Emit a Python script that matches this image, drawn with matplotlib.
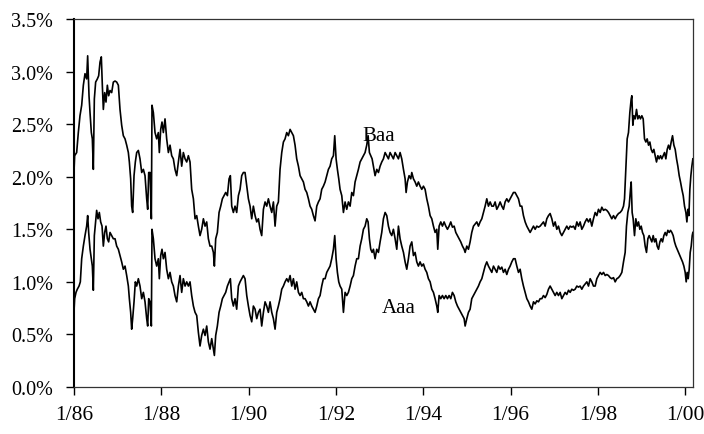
import matplotlib
matplotlib.use("Agg")
import matplotlib.pyplot as plt

# ---- data (decimal year, spread in %) ----
baa_dates = [
    1986.000, 1986.015, 1986.061, 1986.099, 1986.137, 1986.176, 1986.214, 1986.252, 1986.290, 1986.313,
    1986.344, 1986.367, 1986.397, 1986.420, 1986.443, 1986.466, 1986.496, 1986.535, 1986.565, 1986.596,
    1986.626, 1986.649, 1986.672, 1986.703, 1986.733, 1986.764, 1986.794, 1986.825, 1986.863, 1986.901,
    1986.940, 1986.978, 1987.016, 1987.054, 1987.092, 1987.130, 1987.169, 1987.207, 1987.245, 1987.268,
    1987.298, 1987.321, 1987.344, 1987.375, 1987.405, 1987.436, 1987.474, 1987.512, 1987.551, 1987.589,
    1987.627, 1987.665, 1987.688, 1987.711, 1987.742, 1987.772, 1987.787, 1987.818, 1987.856, 1987.894,
    1987.932, 1987.955, 1987.986, 1988.016, 1988.047, 1988.085, 1988.123, 1988.162, 1988.200, 1988.238,
    1988.276,
    1988.314, 1988.353, 1988.391, 1988.429, 1988.467, 1988.505, 1988.544, 1988.582, 1988.620, 1988.658,
    1988.696, 1988.735, 1988.773, 1988.811, 1988.849, 1988.887, 1988.925, 1988.964, 1989.002, 1989.040,
    1989.078, 1989.116, 1989.155, 1989.193, 1989.216, 1989.246, 1989.284, 1989.323, 1989.361, 1989.399,
    1989.437, 1989.475, 1989.514, 1989.552, 1989.582, 1989.613, 1989.651, 1989.689, 1989.727, 1989.766,
    1989.804, 1989.842, 1989.880, 1989.918, 1989.957, 1989.995, 1990.033, 1990.071, 1990.109, 1990.148,
    1990.186, 1990.224, 1990.262, 1990.300, 1990.339, 1990.377, 1990.415, 1990.453, 1990.491, 1990.530,
    1990.568, 1990.606, 1990.644, 1990.682,
    1990.720, 1990.759, 1990.797, 1990.835, 1990.873, 1990.911, 1990.950, 1990.988, 1991.026, 1991.064,
    1991.102, 1991.141, 1991.179, 1991.217, 1991.255, 1991.293, 1991.332, 1991.370, 1991.408, 1991.446,
    1991.484, 1991.522, 1991.561, 1991.599, 1991.637, 1991.675, 1991.713, 1991.752, 1991.790, 1991.828,
    1991.866, 1991.904, 1991.943, 1991.973, 1992.004, 1992.034, 1992.065, 1992.095, 1992.134, 1992.172,
    1992.210, 1992.248, 1992.286, 1992.325, 1992.363, 1992.401, 1992.439, 1992.477, 1992.515, 1992.554,
    1992.592, 1992.630, 1992.668, 1992.706, 1992.737, 1992.767, 1992.798, 1992.829, 1992.859, 1992.897,
    1992.936, 1992.974, 1993.012, 1993.050, 1993.088,
    1993.127, 1993.165, 1993.203, 1993.241, 1993.279, 1993.317, 1993.356, 1993.394, 1993.432, 1993.470,
    1993.508, 1993.547, 1993.585, 1993.608, 1993.638, 1993.676, 1993.715, 1993.738, 1993.776, 1993.814,
    1993.852, 1993.890, 1993.928, 1993.967, 1994.005, 1994.043, 1994.081, 1994.119, 1994.158, 1994.196,
    1994.234, 1994.272, 1994.310, 1994.333, 1994.364, 1994.402, 1994.440, 1994.478, 1994.517, 1994.555,
    1994.593, 1994.631, 1994.669, 1994.708, 1994.746, 1994.784, 1994.822, 1994.860, 1994.899, 1994.937,
    1994.960, 1994.998, 1995.036, 1995.074, 1995.112, 1995.151, 1995.189, 1995.227, 1995.265, 1995.303,
    1995.342, 1995.380, 1995.418, 1995.456, 1995.494,
    1995.533, 1995.571, 1995.609, 1995.647, 1995.685, 1995.723, 1995.762, 1995.800, 1995.838, 1995.876,
    1995.914, 1995.953, 1995.991, 1996.029, 1996.067, 1996.105, 1996.144, 1996.182, 1996.220, 1996.258,
    1996.296, 1996.335, 1996.373, 1996.411, 1996.449, 1996.487, 1996.526, 1996.564, 1996.602, 1996.640,
    1996.678, 1996.717, 1996.755, 1996.793, 1996.831, 1996.869, 1996.907, 1996.946, 1996.984, 1997.022,
    1997.060, 1997.098, 1997.137, 1997.175, 1997.213, 1997.251, 1997.289, 1997.328, 1997.366, 1997.404,
    1997.442, 1997.480, 1997.519, 1997.557, 1997.595, 1997.633, 1997.671, 1997.709, 1997.748, 1997.786,
    1997.824, 1997.862, 1997.900,
    1997.939, 1997.977, 1998.015, 1998.053, 1998.091, 1998.130, 1998.168, 1998.206, 1998.244, 1998.282,
    1998.320, 1998.359, 1998.397, 1998.435, 1998.473, 1998.511, 1998.550, 1998.588, 1998.611, 1998.641,
    1998.672, 1998.702, 1998.733, 1998.764, 1998.779, 1998.802, 1998.825, 1998.855, 1998.886, 1998.916,
    1998.947, 1998.977, 1999.008, 1999.039, 1999.069, 1999.100, 1999.130, 1999.161, 1999.192, 1999.222,
    1999.253, 1999.283, 1999.314, 1999.344, 1999.375, 1999.405, 1999.436, 1999.466, 1999.497, 1999.528,
    1999.558, 1999.589, 1999.619, 1999.650, 1999.680, 1999.711, 1999.742, 1999.772, 1999.803, 1999.833,
    1999.864, 1999.894, 1999.925, 1999.956, 1999.986, 2000.017, 2000.040, 2000.063, 2000.086, 2000.108,
    2000.131, 2000.154, 2000.177,
]
baa_values = [
    2.05, 2.20, 2.23, 2.42, 2.58, 2.68, 2.87, 2.98, 2.93, 3.15,
    2.77, 2.61, 2.42, 2.36, 2.07, 2.74, 2.90, 2.93, 2.96, 3.09,
    3.14, 2.87, 2.64, 2.80, 2.71, 2.87, 2.77, 2.82, 2.80, 2.90,
    2.91, 2.90, 2.87, 2.64, 2.49, 2.39, 2.36, 2.30, 2.23, 2.14,
    1.98, 1.72, 1.66, 2.01, 2.14, 2.23, 2.25, 2.17, 2.04, 2.07,
    2.01, 1.79, 1.69, 2.04, 2.04, 1.60, 2.68, 2.61, 2.42, 2.36,
    2.42, 2.23, 2.45, 2.52, 2.42, 2.55, 2.36, 2.23, 2.30, 2.20,
    2.17,
    2.07, 2.01, 2.14, 2.26, 2.10, 2.23, 2.17, 2.14, 2.20, 2.14,
    1.88, 1.79, 1.60, 1.63, 1.53, 1.44, 1.50, 1.60, 1.53, 1.57,
    1.41, 1.34, 1.34, 1.28, 1.15, 1.41, 1.47, 1.66, 1.72, 1.79,
    1.82, 1.85, 1.82, 1.98, 2.01, 1.72, 1.66, 1.72, 1.66, 1.82,
    1.88, 2.01, 2.04, 2.04, 1.91, 1.79, 1.72, 1.60, 1.72, 1.63,
    1.57, 1.60, 1.50, 1.44, 1.69, 1.76, 1.72, 1.79, 1.72, 1.66,
    1.76, 1.53, 1.72, 1.76,
    2.07, 2.23, 2.33, 2.36, 2.42, 2.39, 2.45, 2.42, 2.39, 2.30,
    2.17, 2.10, 2.01, 1.98, 1.95, 1.88, 1.85, 1.79, 1.72, 1.69,
    1.63, 1.58, 1.72, 1.76, 1.79, 1.88, 1.91, 1.95, 2.01, 2.07,
    2.10, 2.17, 2.20, 2.39, 2.17, 2.07, 1.98, 1.88, 1.82, 1.66,
    1.76, 1.69, 1.76, 1.72, 1.85, 1.82, 1.95, 2.01, 2.07, 2.14,
    2.17, 2.20, 2.23, 2.30, 2.39, 2.23, 2.20, 2.17, 2.10, 2.01,
    2.07, 2.04, 2.10, 2.14, 2.17,
    2.23, 2.20, 2.17, 2.23, 2.20, 2.17, 2.23, 2.20, 2.17, 2.23,
    2.17, 2.07, 1.98, 1.85, 1.95, 2.01, 1.98, 2.04, 1.98, 1.95,
    1.91, 1.95, 1.91, 1.88, 1.91, 1.88, 1.79, 1.72, 1.63, 1.60,
    1.53, 1.47, 1.50, 1.31, 1.53, 1.57, 1.53, 1.57, 1.53, 1.50,
    1.53, 1.57, 1.52, 1.53, 1.47, 1.44, 1.41, 1.38, 1.34, 1.31,
    1.28, 1.34, 1.31, 1.38, 1.47, 1.53, 1.55, 1.57, 1.53, 1.57,
    1.60, 1.66, 1.72, 1.79, 1.72,
    1.76, 1.72, 1.72, 1.76, 1.69, 1.72, 1.76, 1.72, 1.69, 1.76,
    1.79, 1.76, 1.79, 1.82, 1.85, 1.85, 1.82, 1.79, 1.72, 1.72,
    1.63, 1.57, 1.53, 1.50, 1.47, 1.50, 1.53, 1.50, 1.53, 1.52,
    1.53, 1.55, 1.57, 1.53, 1.60, 1.63, 1.65, 1.60, 1.53, 1.57,
    1.50, 1.53, 1.47, 1.44, 1.47, 1.50, 1.53, 1.50, 1.53, 1.52,
    1.53, 1.50, 1.57, 1.53, 1.57, 1.50, 1.53, 1.57, 1.60, 1.57,
    1.60, 1.53, 1.60,
    1.66, 1.63, 1.69, 1.66, 1.71, 1.68, 1.69, 1.68, 1.66, 1.63,
    1.60, 1.63, 1.60, 1.63, 1.65, 1.66, 1.68, 1.72, 1.79, 2.07,
    2.36, 2.42, 2.61, 2.74, 2.77, 2.49, 2.58, 2.55, 2.64, 2.55,
    2.58, 2.55, 2.58, 2.55, 2.36, 2.33, 2.36, 2.30, 2.33, 2.26,
    2.23, 2.26, 2.20, 2.14, 2.20, 2.17, 2.20, 2.17, 2.20, 2.23,
    2.17, 2.26, 2.30, 2.26, 2.33, 2.39, 2.30, 2.26, 2.17, 2.10,
    2.01, 1.95, 1.88, 1.82, 1.72, 1.66, 1.57, 1.69, 1.63, 1.88,
    2.01, 2.10, 2.17,
]

aaa_dates = [
    1986.000, 1986.015, 1986.046, 1986.076, 1986.115, 1986.145, 1986.176, 1986.214, 1986.252, 1986.290,
    1986.313, 1986.336, 1986.367, 1986.397, 1986.420, 1986.443, 1986.466, 1986.496, 1986.519, 1986.550,
    1986.580, 1986.611, 1986.642, 1986.672, 1986.703, 1986.733, 1986.764, 1986.794, 1986.825, 1986.863,
    1986.901, 1986.940, 1986.978, 1987.016, 1987.054, 1987.092, 1987.130, 1987.169, 1987.207, 1987.245,
    1987.268, 1987.298, 1987.321, 1987.344, 1987.375, 1987.405, 1987.436, 1987.474, 1987.512, 1987.551,
    1987.589, 1987.627, 1987.665, 1987.688, 1987.711, 1987.742, 1987.772, 1987.787, 1987.818, 1987.856,
    1987.894, 1987.932, 1987.955, 1987.986, 1988.016, 1988.047, 1988.085, 1988.123, 1988.162, 1988.200,
    1988.238, 1988.276,
    1988.314, 1988.353, 1988.391, 1988.429, 1988.467, 1988.505, 1988.544, 1988.582, 1988.620, 1988.658,
    1988.696, 1988.735, 1988.773, 1988.811, 1988.849, 1988.887, 1988.925, 1988.964, 1989.002, 1989.040,
    1989.078, 1989.116, 1989.155, 1989.193, 1989.216, 1989.246, 1989.284, 1989.323, 1989.361, 1989.399,
    1989.437, 1989.475, 1989.514, 1989.552, 1989.582, 1989.613, 1989.651, 1989.689, 1989.727, 1989.766,
    1989.804, 1989.842, 1989.880, 1989.918, 1989.957, 1989.995, 1990.033, 1990.071, 1990.109, 1990.148,
    1990.186, 1990.224, 1990.262, 1990.300, 1990.339, 1990.377, 1990.415, 1990.453, 1990.491, 1990.530,
    1990.568, 1990.606, 1990.644, 1990.682,
    1990.720, 1990.759, 1990.797, 1990.835, 1990.873, 1990.911, 1990.950, 1990.988, 1991.026, 1991.064,
    1991.102, 1991.141, 1991.179, 1991.217, 1991.255, 1991.293, 1991.332, 1991.370, 1991.408, 1991.446,
    1991.484, 1991.522, 1991.561, 1991.599, 1991.637, 1991.675, 1991.713, 1991.752, 1991.790, 1991.828,
    1991.866, 1991.904, 1991.943, 1991.973, 1992.004, 1992.034, 1992.065, 1992.095, 1992.134, 1992.172,
    1992.210, 1992.248, 1992.286, 1992.325, 1992.363, 1992.401, 1992.439, 1992.477, 1992.515, 1992.554,
    1992.592, 1992.630, 1992.668, 1992.706, 1992.737, 1992.767, 1992.798, 1992.829, 1992.859, 1992.897,
    1992.936, 1992.974, 1993.012, 1993.050, 1993.088,
    1993.127, 1993.165, 1993.203, 1993.241, 1993.279, 1993.317, 1993.356, 1993.394, 1993.432, 1993.470,
    1993.508, 1993.547, 1993.585, 1993.623, 1993.661, 1993.699, 1993.738, 1993.776, 1993.814, 1993.852,
    1993.890, 1993.928, 1993.967, 1994.005, 1994.043, 1994.081, 1994.119, 1994.158, 1994.196, 1994.234,
    1994.272, 1994.310, 1994.333, 1994.364, 1994.402, 1994.440, 1994.478, 1994.517, 1994.555, 1994.593,
    1994.631, 1994.669, 1994.708, 1994.746, 1994.784, 1994.822, 1994.860, 1994.899, 1994.937, 1994.960,
    1994.998, 1995.036, 1995.074, 1995.112, 1995.151, 1995.189, 1995.227, 1995.265, 1995.303, 1995.342,
    1995.380, 1995.418, 1995.456, 1995.494,
    1995.533, 1995.571, 1995.609, 1995.647, 1995.685, 1995.723, 1995.762, 1995.800, 1995.838, 1995.876,
    1995.914, 1995.953, 1995.991, 1996.029, 1996.067, 1996.105, 1996.144, 1996.182, 1996.220, 1996.258,
    1996.296, 1996.335, 1996.373, 1996.411, 1996.449, 1996.487, 1996.526, 1996.564, 1996.602, 1996.640,
    1996.678, 1996.717, 1996.755, 1996.793, 1996.831, 1996.869, 1996.907, 1996.946, 1996.984, 1997.022,
    1997.060, 1997.098, 1997.137, 1997.175, 1997.213, 1997.251, 1997.289, 1997.328, 1997.366, 1997.404,
    1997.442, 1997.480, 1997.519, 1997.557, 1997.595, 1997.633, 1997.671, 1997.709, 1997.748, 1997.786,
    1997.824, 1997.862, 1997.900,
    1997.939, 1997.977, 1998.015, 1998.053, 1998.091, 1998.130, 1998.168, 1998.206, 1998.244, 1998.282,
    1998.320, 1998.359, 1998.397, 1998.435, 1998.473, 1998.511, 1998.550, 1998.588, 1998.626, 1998.656,
    1998.687, 1998.718, 1998.748, 1998.764, 1998.786, 1998.809, 1998.840, 1998.870, 1998.901, 1998.932,
    1998.962, 1998.993, 1999.023, 1999.054, 1999.084, 1999.115, 1999.146, 1999.176, 1999.207, 1999.237,
    1999.268, 1999.299, 1999.329, 1999.359, 1999.390, 1999.421, 1999.451, 1999.482, 1999.512, 1999.543,
    1999.573, 1999.604, 1999.635, 1999.665, 1999.696, 1999.726, 1999.757, 1999.787, 1999.818, 1999.849,
    1999.879, 1999.910, 1999.940, 1999.971, 2000.001, 2000.024, 2000.047, 2000.070, 2000.093, 2000.116,
    2000.139, 2000.162, 2000.177,
]
aaa_values = [
    0.72, 0.84, 0.90, 0.93, 0.96, 1.00, 1.22, 1.34, 1.44, 1.53,
    1.63, 1.47, 1.31, 1.22, 1.15, 0.92, 1.44, 1.57, 1.68, 1.60,
    1.66, 1.57, 1.53, 1.34, 1.47, 1.53, 1.41, 1.38, 1.47, 1.44,
    1.41, 1.41, 1.34, 1.31, 1.25, 1.19, 1.12, 1.15, 1.06, 0.96,
    0.84, 0.71, 0.55, 0.65, 0.81, 1.00, 0.96, 1.03, 0.96, 0.84,
    0.90, 0.81, 0.65, 0.58, 0.84, 0.81, 0.58, 1.50, 1.41, 1.22,
    1.15, 1.22, 1.03, 1.25, 1.31, 1.22, 1.28, 1.12, 1.03, 1.09,
    1.00, 0.96,
    0.87, 0.81, 0.96, 1.06, 0.90, 1.03, 0.96, 1.00, 0.96, 1.00,
    0.87, 0.77, 0.71, 0.68, 0.52, 0.39, 0.49, 0.55, 0.49, 0.58,
    0.43, 0.36, 0.46, 0.36, 0.30, 0.49, 0.58, 0.71, 0.77, 0.84,
    0.87, 0.90, 0.96, 1.00, 1.03, 0.84, 0.77, 0.84, 0.74, 0.96,
    1.00, 1.03, 1.06, 1.03, 0.87, 0.77, 0.68, 0.62, 0.77, 0.74,
    0.65, 0.71, 0.74, 0.58, 0.71, 0.81, 0.77, 0.71, 0.81, 0.71,
    0.65, 0.55, 0.71, 0.77,
    0.84, 0.93, 0.96, 1.00, 1.03, 1.00, 1.06, 0.96, 1.03, 0.93,
    1.00, 0.90, 0.87, 0.90, 0.84, 0.84, 0.81, 0.77, 0.81, 0.77,
    0.74, 0.71, 0.77, 0.84, 0.87, 0.96, 1.03, 1.03, 1.09, 1.12,
    1.15, 1.22, 1.31, 1.44, 1.22, 1.09, 1.00, 0.96, 0.93, 0.71,
    0.90, 0.87, 0.90, 0.96, 1.03, 1.06, 1.15, 1.22, 1.22, 1.34,
    1.41, 1.50, 1.53, 1.60, 1.57, 1.41, 1.31, 1.28, 1.31, 1.22,
    1.31, 1.28, 1.38, 1.47, 1.60,
    1.66, 1.63, 1.53, 1.47, 1.44, 1.50, 1.41, 1.31, 1.53, 1.41,
    1.34, 1.28, 1.19, 1.12, 1.22, 1.34, 1.38, 1.25, 1.28, 1.19,
    1.15, 1.19, 1.15, 1.17, 1.12, 1.09, 1.03, 1.00, 0.93, 0.90,
    0.84, 0.77, 0.71, 0.87, 0.84, 0.87, 0.84, 0.87, 0.84, 0.87,
    0.84, 0.90, 0.87, 0.81, 0.77, 0.74, 0.71, 0.68, 0.65, 0.58,
    0.65, 0.71, 0.74, 0.84, 0.87, 0.90, 0.93, 0.96, 1.00, 1.03,
    1.09, 1.15, 1.19, 1.15,
    1.12, 1.09, 1.15, 1.12, 1.09, 1.15, 1.12, 1.14, 1.09, 1.12,
    1.07, 1.12, 1.15, 1.19, 1.22, 1.22, 1.15, 1.09, 1.12, 1.03,
    0.96, 0.90, 0.84, 0.81, 0.77, 0.74, 0.81, 0.79, 0.82, 0.81,
    0.84, 0.84, 0.87, 0.85, 0.88, 0.93, 0.96, 0.93, 0.90, 0.87,
    0.90, 0.87, 0.90, 0.84, 0.87, 0.90, 0.88, 0.92, 0.90, 0.93,
    0.92, 0.93, 0.96, 0.95, 0.96, 0.93, 0.96, 0.98, 1.00, 0.96,
    1.03, 1.00, 0.96,
    0.96, 1.03, 1.06, 1.09, 1.07, 1.09, 1.06, 1.07, 1.06, 1.04,
    1.03, 1.04, 1.00, 1.03, 1.04, 1.06, 1.09, 1.19, 1.28, 1.53,
    1.66, 1.72, 1.88, 1.95, 1.66, 1.60, 1.44, 1.60, 1.53, 1.57,
    1.50, 1.53, 1.47, 1.44, 1.34, 1.28, 1.41, 1.44, 1.41, 1.38,
    1.44, 1.38, 1.41, 1.34, 1.31, 1.38, 1.41, 1.38, 1.44, 1.47,
    1.44, 1.49, 1.47, 1.49, 1.47, 1.44, 1.38, 1.34, 1.31, 1.28,
    1.25, 1.22, 1.19, 1.15, 1.09, 1.00, 1.09, 1.03, 1.12, 1.28,
    1.34, 1.44, 1.47,
]

assert len(baa_dates) == len(baa_values), (len(baa_dates), len(baa_values))
assert len(aaa_dates) == len(aaa_values), (len(aaa_dates), len(aaa_values))

x_tick_years = [1986, 1988, 1990, 1992, 1994, 1996, 1998, 2000]
x_tick_labels = ["1/86", "1/88", "1/90", "1/92", "1/94", "1/96", "1/98", "1/00"]
y_ticks = [0.0, 0.5, 1.0, 1.5, 2.0, 2.5, 3.0, 3.5]
series_labels = ["Baa", "Aaa"]
label_pos = [(1992.99, 2.39), (1993.45, 0.755)]

# ---- figure ----
plt.rcParams["font.family"] = ["Liberation Serif", "DejaVu Serif"]
fig = plt.figure(figsize=(7.04, 4.35), dpi=100)
ax = fig.add_axes([74 / 704, 1 - 388 / 435, (693 - 74) / 704, (388 - 20) / 435])

ax.plot(baa_dates, baa_values, color="black", lw=1.2)
ax.plot(aaa_dates, aaa_values, color="black", lw=1.2)

for txt, (xx, yy) in zip(series_labels, label_pos):
    ax.text(xx, yy, txt, ha="center", va="center", fontsize=15)

ax.set_xlim(1986.0, 2000.18)
ax.set_ylim(0, 3.5)
ax.set_xticks(x_tick_years)
ax.set_xticklabels(x_tick_labels)
ax.set_yticks(y_ticks)
ax.set_yticklabels([f"{v:.1f}%" for v in y_ticks])

ax.tick_params(axis="x", direction="out", length=6, width=1, labelsize=15.5, pad=7)
ax.tick_params(axis="y", direction="out", length=6, width=1, labelsize=14.5, pad=9)

for side in ["top", "right", "bottom"]:
    ax.spines[side].set_linewidth(0.9)
    ax.spines[side].set_color("#333333")
ax.spines["left"].set_linewidth(1.5)
ax.spines["left"].set_color("black")

fig.savefig("out.png", dpi=100)
